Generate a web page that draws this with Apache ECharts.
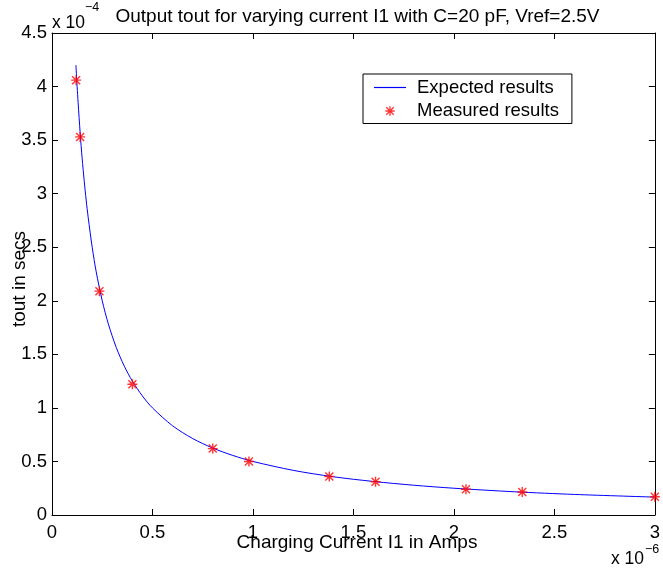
<!DOCTYPE html>
<html>
<head>
<meta charset="utf-8">
<script src="https://cdn.jsdelivr.net/npm/echarts@6/dist/echarts.min.js"></script>
<style>
  html, body { margin: 0; padding: 0; background: #fff; }
  #chart { width: 663px; height: 571px; }
</style>
</head>
<body>
<div id="chart"></div>
<script>
// Values in units of 1e-6 A (current) and 1e-4 s (tout)
const expectedCurrent = [0.119, 0.125, 0.13, 0.14, 0.15, 0.16, 0.17, 0.18, 0.2, 0.22, 0.25, 0.28, 0.32, 0.36, 0.4, 0.45, 0.5, 0.6, 0.7, 0.8, 0.9, 1.0, 1.2, 1.4, 1.6, 1.8, 2.0, 2.3, 2.6, 3.0];
const expectedTout    = [4.20, 4.00, 3.85, 3.57, 3.33, 3.125, 2.94, 2.78, 2.50, 2.27, 2.00, 1.786, 1.563, 1.389, 1.25, 1.111, 1.00, 0.833, 0.714, 0.625, 0.556, 0.50, 0.417, 0.357, 0.313, 0.278, 0.25, 0.217, 0.192, 0.167];
const measuredCurrent = [0.12, 0.14, 0.236, 0.40, 0.80, 0.98, 1.38, 1.61, 2.06, 2.34, 3.0];
const measuredTout    = [4.06, 3.53, 2.09, 1.22, 0.62, 0.50, 0.36, 0.31, 0.24, 0.215, 0.17];
const xTickValues = [0, 0.5, 1, 1.5, 2, 2.5, 3];
const yTickValues = [0, 0.5, 1, 1.5, 2, 2.5, 3, 3.5, 4, 4.5];
const seriesNames = ['Expected results', 'Measured results'];
const titleText = 'Output tout for varying current I1 with C=20 pF, Vref=2.5V';
const xLabelText = 'Charging Current I1 in Amps';
const yLabelText = 'tout in secs';

const FONT = '"Liberation Sans", Arial, Helvetica, sans-serif';
const starCore = 'M0 4.3L10 4.3L10 5.7L0 5.7Z M4.3 0L5.7 0L5.7 10L4.3 10Z M0.5 1.5L1.5 0.5L9.5 8.5L8.5 9.5Z M8.5 0.5L9.5 1.5L1.5 9.5L0.5 8.5Z';
const star = 'path://' + starCore;
const starPadded = 'path://M-2.5 -2.5L-2.4 -2.5L-2.5 -2.4Z M12.5 12.5L12.4 12.5L12.5 12.4Z ' + starCore;
const lineIcon = 'path://M0 0L32 0L32 1.2L0 1.2Z';

const chart = echarts.init(document.getElementById('chart'), null, { renderer: 'canvas' });

const axisLineStyle = { color: '#000', width: 1 };
const commonX = {
  type: 'value', min: 0, max: 3, interval: 0.5,
  splitLine: { show: false },
  axisLine: { show: true, onZero: false, lineStyle: axisLineStyle },
  axisTick: { show: true, inside: true, length: 6, lineStyle: axisLineStyle },
};
const commonY = {
  type: 'value', min: 0, max: 4.5, interval: 0.5,
  splitLine: { show: false },
  axisLine: { show: true, onZero: false, lineStyle: axisLineStyle },
  axisTick: { show: true, inside: true, length: 6, lineStyle: axisLineStyle },
};

function txt(text, x, y, size, opts) {
  opts = opts || {};
  return {
    type: 'text', x: x, y: y, rotation: opts.rotation || 0, silent: true,
    style: {
      text: text, fill: '#000', font: size + 'px ' + FONT,
      align: opts.align || 'center', textAlign: opts.align || 'center',
      verticalAlign: 'middle', textVerticalAlign: 'middle'
    }
  };
}

const option = {
  backgroundColor: '#fff',
  animation: false,
  grid: { left: 52, top: 33, width: 610, height: 482, containLabel: false },
  xAxis: [
    Object.assign({}, commonX, {
      position: 'bottom',
      axisLabel: {
        show: true, margin: 8, color: '#000', fontSize: 18.5, fontFamily: FONT,
        formatter: v => (xTickValues.indexOf(v) >= 0 ? String(v) : '')
      }
    }),
    Object.assign({}, commonX, { position: 'top', axisLabel: { show: false } })
  ],
  yAxis: [
    Object.assign({}, commonY, {
      position: 'left',
      axisLabel: {
        show: true, margin: 5, color: '#000', fontSize: 18.5, fontFamily: FONT,
        formatter: v => (yTickValues.indexOf(v) >= 0 ? String(v) : '')
      }
    }),
    Object.assign({}, commonY, { position: 'right', axisLabel: { show: false } })
  ],
  legend: {
    orient: 'vertical', left: 363, top: 74,
    padding: [4, 13, 3, 11], itemGap: 4.5,
    itemWidth: 32, itemHeight: 14,
    borderColor: '#000', borderWidth: 1, backgroundColor: '#fff',
    textStyle: { fontSize: 18.5, fontFamily: FONT, color: '#000', padding: [0, 0, 0, 6] },
    data: [
      { name: seriesNames[0], icon: lineIcon },
      { name: seriesNames[1], icon: starPadded }
    ]
  },
  series: [
    {
      name: seriesNames[0], type: 'line',
      xAxisIndex: 0, yAxisIndex: 0,
      data: expectedCurrent.map((x, i) => [x, expectedTout[i]]),
      showSymbol: false, symbol: 'none',
      smooth: 0.3,
      lineStyle: { color: '#0000ff', width: 1 },
      itemStyle: { color: '#0000ff' },
      z: 2
    },
    {
      name: seriesNames[1], type: 'scatter',
      xAxisIndex: 0, yAxisIndex: 0,
      data: measuredCurrent.map((x, i) => [x, measuredTout[i]]),
      symbol: star, symbolSize: 10,
      itemStyle: { color: '#ff0000' },
      z: 3
    }
  ],
  graphic: [
    txt(titleText, 357.5, 17, 19),
    txt('x 10', 52, 23, 17.5, { align: 'left' }),
    txt('\u22124', 85, 8, 12.5, { align: 'left' }),
    txt(xLabelText, 357, 543, 19),
    txt('x 10', 611, 559, 17.5, { align: 'left' }),
    txt('\u22126', 645, 550, 12.5, { align: 'left' }),
    txt(yLabelText, 20, 279, 19, { rotation: Math.PI / 2 })
  ]
};
chart.setOption(option);
</script>
</body>
</html>
